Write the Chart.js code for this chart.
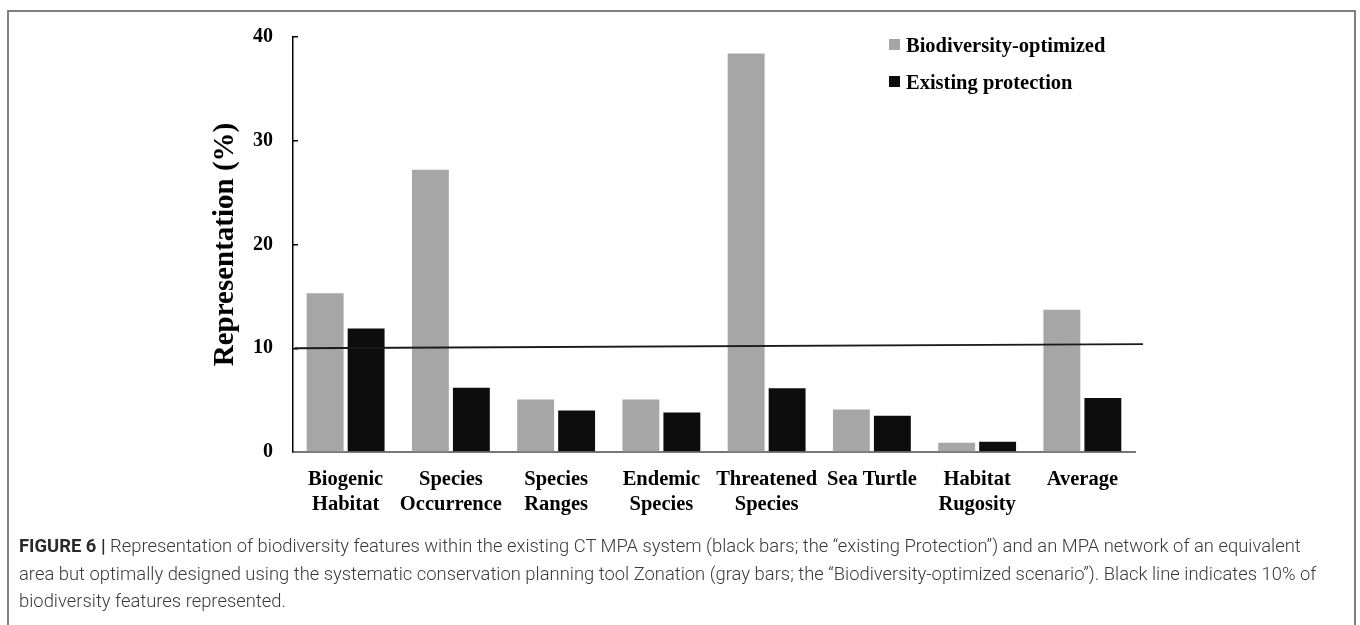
<!DOCTYPE html>
<html>
<head>
<meta charset="utf-8">
<script src="https://cdn.jsdelivr.net/npm/chart.js@4.4.1/dist/chart.umd.min.js"></script>
<style>
  html, body { margin: 0; padding: 0; background: #fff; width: 1360px; height: 625px; overflow: hidden; }
  #frame { position: absolute; left: 7px; top: 10px; width: 1345px; height: 700px; border: 2px solid #808080; }
  #c { position: absolute; left: 0; top: 0; }
  #legend { position: absolute; left: 889px; top: 26px; font: bold 20.5px "Liberation Serif", "Times New Roman", serif; color: #000; }
  #legend .row { height: 37px; line-height: 28px; display: flex; align-items: center; white-space: nowrap; }
  #legend .sw { width: 11px; height: 11px; margin-right: 6px; }
  #caption { position: absolute; left: 19px; top: 532px; width: 1330px; font: 300 18.4px Roboto, "Liberation Sans", sans-serif; line-height: 27.5px; color: #3a3a3a; white-space: nowrap; }
  #caption b { font-weight: 700; color: #2a2a2a; }
</style>
</head>
<body>
<div id="frame"></div>
<canvas id="c" width="1360" height="535"></canvas>
<div id="legend"></div>
<div id="caption"><b>FIGURE 6 |</b> Representation of biodiversity features within the existing CT MPA system (black bars; the “existing Protection”) and an MPA network of an equivalent<br>area but optimally designed using the systematic conservation planning tool Zonation (gray bars; the “Biodiversity-optimized scenario”). Black line indicates 10% of<br>biodiversity features represented.</div>
<script>
// ---- data ----
const categories = [
  ['Biogenic', 'Habitat'],
  ['Species', 'Occurrence'],
  ['Species', 'Ranges'],
  ['Endemic', 'Species'],
  ['Threatened', 'Species'],
  'Sea Turtle',
  ['Habitat', 'Rugosity'],
  'Average'
];
const seriesNames = ['Biodiversity-optimized', 'Existing protection'];
const optimizedValues = [15.3, 27.2, 5.05, 5.05, 38.4, 4.1, 0.9, 13.7];
const existingValues  = [11.9, 6.2, 4.0, 3.8, 6.15, 3.5, 1.0, 5.2];
// 10% reference line (drawn slightly sloped in the original), x as fraction of the x-axis length
const refLineX = [0.002, 1.0095];
const refLineY = [10.0, 10.4];
const yTicks = [0, 10, 20, 30, 40];

const colors = ['#a6a6a6', '#0d0d0d'];
const serif = '"Liberation Serif", "Times New Roman", serif';

// legend (HTML)
const legendEl = document.getElementById('legend');
seriesNames.forEach((n, i) => {
  const row = document.createElement('div');
  row.className = 'row';
  const sw = document.createElement('span');
  sw.className = 'sw';
  sw.style.background = colors[i];
  const t = document.createElement('span');
  t.textContent = n;
  row.appendChild(sw); row.appendChild(t);
  legendEl.appendChild(row);
});

// reference line drawn through the chart's own scales
const refLinePlugin = {
  id: 'refLine',
  afterDatasetsDraw(chart) {
    const { ctx, chartArea, scales } = chart;
    const w = chartArea.right - chartArea.left;
    ctx.save();
    ctx.strokeStyle = '#1a1a1a';
    ctx.lineWidth = 1.8;
    ctx.beginPath();
    refLineX.forEach((fx, i) => {
      const px = chartArea.left + fx * w;
      const py = scales.y.getPixelForValue(refLineY[i]);
      if (i === 0) ctx.moveTo(px, py); else ctx.lineTo(px, py);
    });
    ctx.stroke();
    ctx.restore();
  }
};

const barStyle = {
  categoryPercentage: 0.779,
  barPercentage: 0.9,
  borderWidth: 0
};

new Chart(document.getElementById('c'), {
  type: 'bar',
  data: {
    labels: categories,
    datasets: [
      Object.assign({ label: seriesNames[0], data: optimizedValues, backgroundColor: colors[0] }, barStyle),
      Object.assign({ label: seriesNames[1], data: existingValues, backgroundColor: colors[1] }, barStyle)
    ]
  },
  plugins: [refLinePlugin],
  options: {
    responsive: false,
    animation: false,
    devicePixelRatio: 1,
    layout: { padding: { left: 0, right: 225, top: 36, bottom: 0 } },
    plugins: { legend: { display: false }, tooltip: { enabled: false } },
    scales: {
      x: {
        type: 'category',
        position: 'bottom',
        offset: true,
        grid: { display: false, drawTicks: false },
        border: { display: true, color: '#777777', width: 2 },
        ticks: {
          color: '#000',
          font: { family: serif, size: 20.5, weight: 'bold', lineHeight: 1.24 },
          padding: 15,
          maxRotation: 0,
          autoSkip: false
        },
        afterFit: (s) => { s.height = 83; }
      },
      y: {
        type: 'linear',
        position: 'left',
        min: 0,
        max: 40,
        afterBuildTicks: (s) => { s.ticks = yTicks.map(v => ({ value: v })); },
        grid: { drawOnChartArea: false, drawTicks: true, tickLength: -5, color: '#000', lineWidth: 1.5 },
        border: { display: true, color: '#000', width: 1.5 },
        ticks: {
          color: '#000',
          font: { family: serif, size: 20, weight: 'bold' },
          padding: 25
        },
        title: {
          display: true,
          text: 'Representation (%)',
          color: '#000',
          font: { family: serif, size: 29, weight: 'bold' },
          padding: { top: 208, bottom: 0 }
        },
        afterFit: (s) => { s.width = 293; }
      }
    }
  }
});
</script>
</body>
</html>
